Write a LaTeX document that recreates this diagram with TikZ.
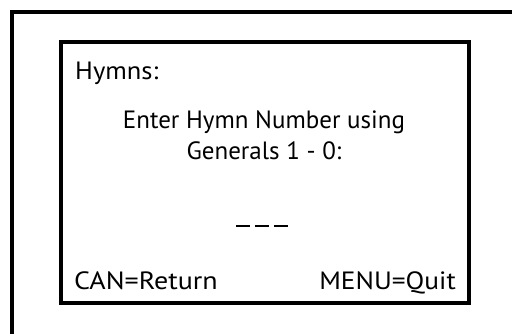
\documentclass[tikz,border=0pt]{standalone}
\usepackage{fontspec}
\setmainfont{PT Sans}
\begin{document}
\begin{tikzpicture}[x=1pt,y=-1pt,
  frame/.style={line width=4pt},
  txt/.style={inner sep=0pt,font=\fontsize{25}{30}\selectfont}]
\useasboundingbox (0,0) rectangle (512,333);
\coordinate (ob) at (12,340);
\coordinate (oc) at (12,12);
\coordinate (or) at (520,12);
\draw[frame] (ob) -- (oc) -- (or);
\node[draw,frame,minimum width=408pt,minimum height=261pt,inner sep=0pt] (screen) at (264.5,172) {};
\node[txt,anchor=base west,xscale=1.06,transform shape] (title) at (75,79) {Hymns:};
\node[txt,anchor=base] (l1) at (264,128) {Enter Hymn Number using};
\node[txt,anchor=base] (l2) at (264,159) {Generals 1 - 0:};
\node[txt,anchor=base] (dash) at (262,227) {\rule{14pt}{2.4pt}\hspace{5pt}\rule{14pt}{2.4pt}\hspace{5pt}\rule{14pt}{2.4pt}};
\node[txt,anchor=base west,xscale=1.12,transform shape] (can) at (74,289) {CAN=Return};
\node[txt,anchor=base east,xscale=1.095,transform shape] (menu) at (456,289) {MENU=Quit};
\end{tikzpicture}
\end{document}
